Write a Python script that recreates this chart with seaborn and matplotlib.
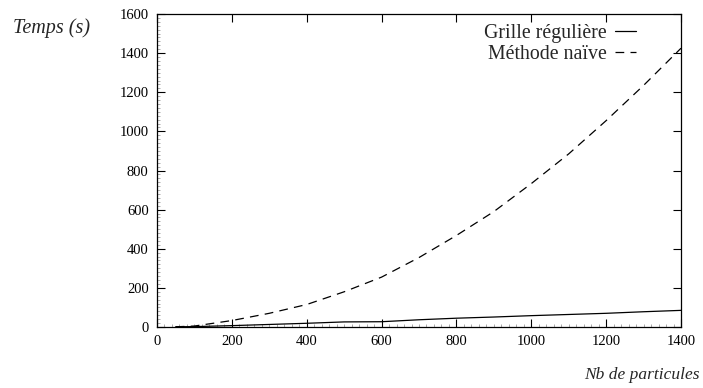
import matplotlib
matplotlib.use("Agg")
import matplotlib.pyplot as plt
import seaborn as sns
import pandas as pd
from matplotlib.ticker import MultipleLocator

sns.set_theme(style="ticks")
plt.rcParams['font.family'] = ['Liberation Serif', 'DejaVu Serif']

# Data
nb_particules = [50, 100, 200, 300, 400, 500, 600, 700, 800, 900, 1000, 1100, 1200, 1300, 1400]
grille = [1, 2, 7, 13, 19, 26, 27, 37, 45, 51, 58, 64, 70, 78, 85]
naive = [1, 5, 33, 70, 115, 180, 255, 355, 468, 590, 733, 885, 1055, 1235, 1425]

label_grille = "Grille régulière"
label_naive = "Méthode naïve"

df = pd.concat([
    pd.DataFrame({"n": nb_particules, "t": grille, "m": label_grille}),
    pd.DataFrame({"n": nb_particules, "t": naive, "m": label_naive}),
])

fig = plt.figure(figsize=(7.03, 3.88), dpi=100)
ax = fig.add_axes([157/703, 1-327/388, (681-157)/703, (327-14)/388])

sns.lineplot(data=df, x="n", y="t", hue="m", style="m",
             palette=["black", "black"],
             dashes={label_grille: "", label_naive: (7, 5)},
             linewidth=0.9, ax=ax)

ax.set_xlim(0, 1400)
ax.set_ylim(0, 1600)
ax.xaxis.set_major_locator(MultipleLocator(200))
ax.yaxis.set_major_locator(MultipleLocator(200))
ax.xaxis.set_minor_locator(MultipleLocator(20))
ax.yaxis.set_minor_locator(MultipleLocator(20))
ax.tick_params(which="major", direction="in", length=6, width=0.8, top=True, right=True,
               labelsize=10.5, pad=6, colors="black")
ax.tick_params(which="minor", direction="in", length=2, width=0.5, top=False, right=False,
               color="#888888")
for s in ax.spines.values():
    s.set_linewidth(0.9)
    s.set_color("black")
    s.set_visible(True)

ax.set_xlabel("")
ax.set_ylabel("")
fig.text(13/703, 1-28/388, "Temps (s)", fontsize=14.5, style="italic", ha="left", va="center")
fig.text(700/703, 1-375/388, "Nb de particules", fontsize=12.5, style="italic", ha="right", va="center")

leg = ax.legend(loc="upper right", frameon=False, markerfirst=False, fontsize=14.3,
                handlelength=1.05, handletextpad=0.4, labelspacing=0.1,
                borderaxespad=0, borderpad=0,
                bbox_to_anchor=(636/703, 1-24/388), bbox_transform=fig.transFigure)
for h in leg.get_lines():
    h.set_linewidth(0.9)

fig.savefig("out.png", dpi=100)
